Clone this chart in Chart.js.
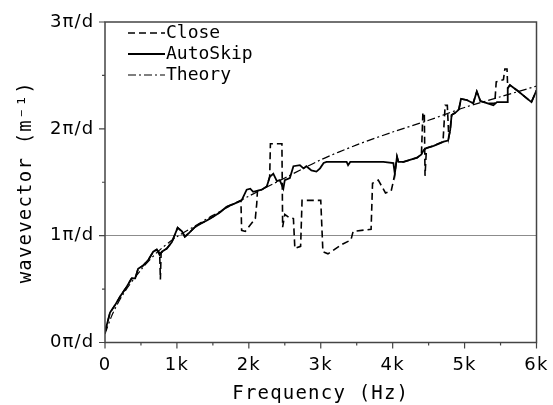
<!DOCTYPE html>
<html>
<head>
<meta charset="utf-8">
<script src="https://cdn.jsdelivr.net/npm/chart.js@4.4.0/dist/chart.umd.min.js"></script>
<style>
  html, body { margin: 0; padding: 0; background: #fff; }
  #wrap { width: 553px; height: 405px; }
</style>
</head>
<body>
<div id="wrap"><canvas id="chart" width="553" height="405"></canvas></div>
<script>
// Data (frequency in Hz, wavevector in units of pi/d)
const autoFreq = [0, 70, 140, 210, 300, 370, 420, 460, 530, 600, 670, 720, 760, 790, 860, 930, 1010, 1070, 1110, 1160, 1250, 1320, 1410, 1510, 1600, 1690, 1800, 1900, 1970, 2020, 2060, 2180, 2250, 2290, 2340, 2390, 2430, 2480, 2500, 2570, 2620, 2710, 2760, 2800, 2870, 2940, 2990, 3040, 3080, 3360, 3380, 3410, 3870, 4010, 4030, 4060, 4080, 4150, 4240, 4340, 4400, 4430, 4470, 4570, 4710, 4770, 4800, 4820, 4870, 4920, 4950, 5030, 5120, 5170, 5220, 5310, 5400, 5450, 5590, 5600, 5630, 5750, 5930, 6000];
const autoK = [0.10, 0.28, 0.35, 0.43, 0.52, 0.60, 0.60, 0.69, 0.72, 0.77, 0.85, 0.87, 0.82, 0.85, 0.88, 0.94, 1.075, 1.04, 0.99, 1.02, 1.08, 1.11, 1.14, 1.18, 1.22, 1.27, 1.30, 1.33, 1.43, 1.44, 1.41, 1.43, 1.46, 1.55, 1.58, 1.51, 1.52, 1.44, 1.52, 1.54, 1.65, 1.66, 1.63, 1.65, 1.61, 1.60, 1.63, 1.68, 1.69, 1.69, 1.66, 1.69, 1.69, 1.68, 1.58, 1.74, 1.69, 1.69, 1.71, 1.73, 1.76, 1.80, 1.82, 1.84, 1.88, 1.89, 1.99, 2.13, 2.15, 2.18, 2.28, 2.27, 2.24, 2.35, 2.26, 2.24, 2.22, 2.25, 2.25, 2.38, 2.41, 2.35, 2.25, 2.36];

const closeFreq = [0, 70, 140, 210, 300, 370, 420, 460, 530, 600, 670, 720, 760, 770, 780, 860, 930, 1010, 1070, 1110, 1160, 1250, 1320, 1410, 1510, 1600, 1690, 1800, 1890, 1900, 1950, 2090, 2110, 2120, 2180, 2250, 2290, 2300, 2460, 2470, 2500, 2560, 2620, 2640, 2720, 2740, 3000, 3030, 3100, 3300, 3420, 3450, 3700, 3720, 3800, 3900, 3980, 4000, 4030, 4060, 4080, 4150, 4240, 4340, 4400, 4420, 4440, 4450, 4470, 4570, 4700, 4730, 4760, 4780, 4800, 4820, 4870, 4920, 4950, 5030, 5120, 5170, 5220, 5310, 5420, 5440, 5540, 5560, 5590, 5600, 5630, 5750, 5930, 6000];
const closeK = [0.10, 0.28, 0.35, 0.43, 0.52, 0.60, 0.60, 0.69, 0.72, 0.77, 0.85, 0.87, 0.84, 0.59, 0.84, 0.88, 0.94, 1.075, 1.04, 0.99, 1.02, 1.08, 1.11, 1.14, 1.18, 1.22, 1.27, 1.30, 1.33, 1.05, 1.04, 1.16, 1.30, 1.42, 1.43, 1.46, 1.55, 1.86, 1.86, 1.08, 1.20, 1.17, 1.16, 0.88, 0.90, 1.33, 1.33, 0.85, 0.83, 0.92, 0.96, 1.04, 1.06, 1.49, 1.52, 1.40, 1.42, 1.48, 1.58, 1.74, 1.69, 1.69, 1.71, 1.73, 1.76, 2.15, 2.15, 1.56, 1.82, 1.84, 1.88, 2.22, 2.22, 1.92, 1.99, 2.13, 2.15, 2.18, 2.28, 2.27, 2.24, 2.35, 2.26, 2.24, 2.24, 2.44, 2.46, 2.56, 2.56, 2.38, 2.41, 2.35, 2.25, 2.36];

const theoryFreq = [0, 100, 250, 500, 750, 1000, 1250, 1500, 2000, 2500, 3000, 3500, 4000, 4500, 5000, 5500, 6000];
const theoryK = [0.08, 0.26, 0.45, 0.68, 0.86, 0.99, 1.09, 1.19, 1.37, 1.54, 1.71, 1.85, 1.97, 2.08, 2.20, 2.30, 2.40];

const xTicks = [0, 1000, 2000, 3000, 4000, 5000, 6000];
const yTicks = [0, 1, 2, 3];

const toPoints = (xs, ys) => xs.map((x, i) => ({ x: x, y: ys[i] }));

const seriesNames = ['Close', 'AutoSkip', 'Theory'];
const seriesDash = [[7, 4], [], [8, 3, 2, 3]];
const seriesWidth = [1.6, 1.8, 1.2];

// the reference text is a bit spaced out
const spacingPlugin = {
  id: 'spacing',
  beforeDraw(chart) { chart.ctx.letterSpacing = '1.2px'; },
  beforeLayout(chart) { chart.ctx.letterSpacing = '1.2px'; },
};

// frame, tick marks and legend drawn by hand
const framePlugin = {
  id: 'frame',
  afterDraw(chart) {
    const { ctx, chartArea: a, scales } = chart;
    ctx.save();
    ctx.strokeStyle = '#444';
    ctx.lineWidth = 1.5;
    ctx.strokeRect(a.left, a.top, a.right - a.left, a.bottom - a.top);

    ctx.lineWidth = 1.2;
    ctx.beginPath();
    for (let v = 0; v <= 6000; v += 500) {
      const px = scales.x.getPixelForValue(v);
      const len = v % 1000 === 0 ? 6 : 3;
      ctx.moveTo(px, a.bottom);
      ctx.lineTo(px, a.bottom + len);
    }
    for (let v = 0; v <= 3; v += 0.5) {
      const py = scales.y.getPixelForValue(v);
      const len = Number.isInteger(v) ? 6 : 3;
      ctx.moveTo(a.left, py);
      ctx.lineTo(a.left - len, py);
    }
    ctx.stroke();

    // legend
    ctx.letterSpacing = '0px';
    ctx.strokeStyle = '#000';
    ctx.fillStyle = '#000';
    ctx.font = '18px "DejaVu Sans Mono"';
    ctx.textBaseline = 'middle';
    seriesNames.forEach((name, i) => {
      const y = 33 + i * 21;
      ctx.setLineDash(seriesDash[i]);
      ctx.lineWidth = seriesWidth[i];
      ctx.beginPath();
      ctx.moveTo(128, y);
      ctx.lineTo(165, y);
      ctx.stroke();
      ctx.setLineDash([]);
      ctx.fillText(name, 166, y);
    });
    ctx.restore();
  }
};

const ctx = document.getElementById('chart').getContext('2d');
const chart = new Chart(ctx, {
  type: 'line',
  data: {
    datasets: [
      {
        label: 'Close',
        data: toPoints(closeFreq, closeK),
        borderColor: '#000',
        borderWidth: seriesWidth[0],
        borderDash: seriesDash[0],
        pointRadius: 0,
        tension: 0,
      },
      {
        label: 'AutoSkip',
        data: toPoints(autoFreq, autoK),
        borderColor: '#000',
        borderWidth: seriesWidth[1],
        pointRadius: 0,
        tension: 0,
      },
      {
        label: 'Theory',
        data: toPoints(theoryFreq, theoryK),
        borderColor: '#000',
        borderWidth: seriesWidth[2],
        borderDash: seriesDash[2],
        pointRadius: 0,
        tension: 0.3,
      },
    ],
  },
  options: {
    responsive: false,
    animation: false,
    events: [],
    layout: { padding: { top: 22, right: 16.5, bottom: 0, left: 0 } },
    plugins: {
      legend: { display: false },
      tooltip: { enabled: false },
    },
    scales: {
      x: {
        type: 'linear',
        min: 0,
        max: 6000,
        afterBuildTicks: (scale) => { scale.ticks = xTicks.map(v => ({ value: v })); },
        ticks: {
          autoSkip: false,
          maxRotation: 0,
          padding: 12,
          color: '#000',
          font: { family: 'DejaVu Sans', size: 18 },
          callback: (v) => v === 0 ? '0' : (v / 1000) + 'k',
        },
        grid: { display: false, drawTicks: false },
        border: { display: false },
        title: {
          display: true,
          text: 'Frequency (Hz)',
          color: '#000',
          font: { family: 'DejaVu Sans Mono', size: 19, lineHeight: 1 },
          padding: { top: 0, bottom: 1.5 },
        },
        afterFit: (scale) => {
          scale.height = 62.5;
          scale.paddingRight = 0;
          scale.paddingLeft = 0;
        },
      },
      y: {
        type: 'linear',
        min: 0,
        max: 3,
        afterBuildTicks: (scale) => { scale.ticks = yTicks.map(v => ({ value: v })); },
        ticks: {
          autoSkip: false,
          padding: 10.5,
          color: '#000',
          font: { family: 'DejaVu Sans', size: 18 },
          callback: (v) => v + 'π/d',
        },
        grid: {
          drawTicks: false,
          color: (c) => c.tick && c.tick.value === 1 ? '#8c8c8c' : 'rgba(0,0,0,0)',
          lineWidth: 1,
        },
        border: { display: false },
        title: {
          display: true,
          text: 'wavevector (m⁻¹)',
          color: '#000',
          font: { family: 'DejaVu Sans Mono', size: 19, lineHeight: 1 },
          padding: { top: 17, bottom: 0 },
        },
        afterFit: (scale) => { scale.width = 105; },
      },
    },
  },
  plugins: [spacingPlugin, framePlugin],
});
</script>
</body>
</html>
